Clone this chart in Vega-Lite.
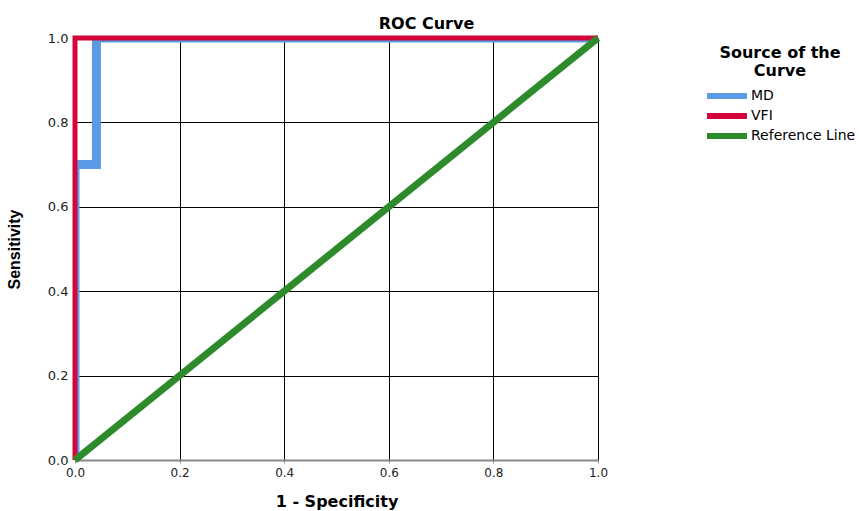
{
  "$schema": "https://vega.github.io/schema/vega-lite/v6.json",
  "width": 523,
  "height": 422,
  "autosize": {"type": "none"},
  "padding": {"left": 75, "top": 38, "right": 261, "bottom": 51},
  "background": "white",
  "config": {
    "font": "DejaVu Sans",
    "view": {"stroke": null},
    "axis": {
      "labelFont": "DejaVu Sans",
      "labelFontSize": 12,
      "labelColor": "#222",
      "labelFlush": false,
      "titleFontSize": 16,
      "titleFontWeight": "bold",
      "titleColor": "#000",
      "gridColor": "#000",
      "gridWidth": 1,
      "gridOpacity": 1,
      "domainColor": "#888",
      "domainWidth": 2,
      "tickColor": "#888",
      "tickSize": 3
    }
  },
  "title": {
    "text": "ROC Curve",
    "font": "DejaVu Sans",
    "fontSize": 16,
    "fontWeight": "bold",
    "color": "#000",
    "anchor": "middle",
    "dx": 90,
    "offset": -8
  },
  "data": {
    "values": [
      {"series": "MD", "step": 1, "x": 0.0, "y": 0.0},
      {"series": "MD", "step": 2, "x": 0.0, "y": 0.7},
      {"series": "MD", "step": 3, "x": 0.041, "y": 0.7},
      {"series": "MD", "step": 4, "x": 0.041, "y": 1.0},
      {"series": "MD", "step": 5, "x": 1.0, "y": 1.0},
      {"series": "VFI", "step": 1, "x": 0.0, "y": 0.0},
      {"series": "VFI", "step": 2, "x": 0.0, "y": 1.0},
      {"series": "VFI", "step": 3, "x": 1.0, "y": 1.0},
      {"series": "Reference Line", "step": 1, "x": 0.0, "y": 0.0},
      {"series": "Reference Line", "step": 2, "x": 1.0, "y": 1.0}
    ]
  },
  "encoding": {
    "x": {
      "field": "x", "type": "quantitative",
      "scale": {"domain": [0, 1], "nice": false},
      "axis": {"title": "1 - Specificity", "titleFont": "DejaVu Sans", "values": [0, 0.2, 0.4, 0.6, 0.8, 1.0], "format": ".1f", "labelPadding": 4, "titlePadding": 15}
    },
    "y": {
      "field": "y", "type": "quantitative",
      "scale": {"domain": [0, 1], "nice": false},
      "axis": {"title": "Sensitivity", "titleFont": "Liberation Sans", "titleFontSize": 16, "values": [0, 0.2, 0.4, 0.6, 0.8, 1.0], "format": ".1f", "ticks": false, "labelFontSize": 13, "labelPadding": 7, "titlePadding": 25}
    },
    "order": {"field": "step", "type": "quantitative"},
    "color": {
      "field": "series", "type": "nominal",
      "scale": {"domain": ["MD", "VFI", "Reference Line"], "range": ["#5B9BE6", "#D4053B", "#2E8B2B"]},
      "legend": {
        "title": ["Source of the", "Curve"],
        "orient": "none",
        "legendX": 629,
        "legendY": 7,
        "titleFont": "DejaVu Sans",
        "titleFontSize": 16,
        "titleFontWeight": "bold",
        "titleColor": "#000",
        "titleAlign": "center",
        "titleAnchor": "middle",
        "titleLineHeight": 18,
        "titlePadding": 9,
        "symbolType": "M-1,0H7",
        "symbolSize": 100,
        "symbolStrokeWidth": 6,
        "labelFont": "DejaVu Sans",
        "labelFontSize": 14,
        "labelColor": "#000",
        "labelOffset": 31,
        "rowPadding": -10
      }
    }
  },
  "layer": [
    {"transform": [{"filter": "datum.series === 'MD'"}], "mark": {"type": "line", "strokeWidth": 9, "strokeJoin": "miter", "strokeCap": "butt", "clip": true}},
    {"transform": [{"filter": "datum.series === 'VFI'"}], "mark": {"type": "line", "strokeWidth": 5, "strokeJoin": "miter", "strokeCap": "butt"}},
    {"transform": [{"filter": "datum.series === 'Reference Line'"}], "mark": {"type": "line", "strokeWidth": 7, "strokeCap": "butt"}}
  ]
}
